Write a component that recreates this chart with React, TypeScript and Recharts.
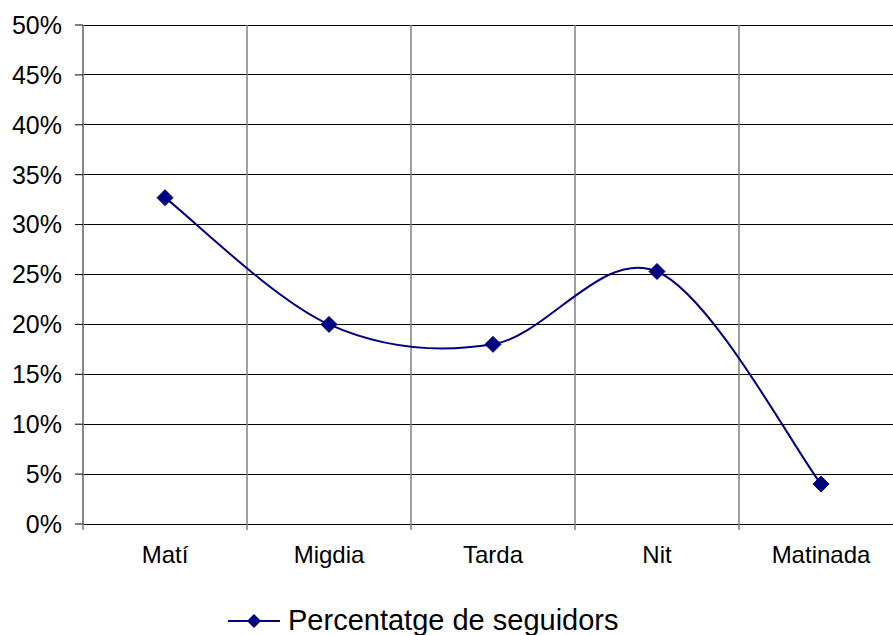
import React from 'react';
import {
  LineChart,
  Line,
  XAxis,
  YAxis,
  CartesianGrid,
} from 'recharts';

const categories = ['Matí', 'Migdia', 'Tarda', 'Nit', 'Matinada'];
const followers = [32.7, 20.0, 18.0, 25.3, 4.0];
const yTicks = [0, 5, 10, 15, 20, 25, 30, 35, 40, 45, 50];
const seriesName = 'Percentatge de seguidors';

const NAVY = '#000080';
const FONT = '"Liberation Sans", Arial, sans-serif';

const data = categories.map((name, i) => ({ name, value: followers[i] }));

// spreadsheet-style smoothing: catmull-rom segments written as beziers
const smoothCurve = (context: any) => {
  let pts: number[][] = [];
  return {
    areaStart() {},
    areaEnd() {},
    lineStart() {
      pts = [];
    },
    point(x: number, y: number) {
      pts.push([+x, +y]);
    },
    lineEnd() {
      if (!pts.length) return;
      context.moveTo(pts[0][0], pts[0][1]);
      for (let i = 0; i < pts.length - 1; i++) {
        const p0 = pts[i - 1] || pts[i];
        const p1 = pts[i];
        const p2 = pts[i + 1];
        const p3 = pts[i + 2] || pts[i + 1];
        context.bezierCurveTo(
          p1[0] + (p2[0] - p0[0]) / 6,
          p1[1] + (p2[1] - p0[1]) / 6,
          p2[0] - (p3[0] - p1[0]) / 6,
          p2[1] - (p3[1] - p1[1]) / 6,
          p2[0],
          p2[1],
        );
      }
    },
  };
};

const Diamond = (props: any) => {
  const { cx, cy } = props;
  if (cx == null || cy == null) return null;
  const r = 8;
  return (
    <polygon
      points={`${cx},${cy - r} ${cx + r},${cy} ${cx},${cy + r} ${cx - r},${cy}`}
      fill={NAVY}
      stroke={NAVY}
    />
  );
};

// category label plus the small grey tick at the left edge of its band
const CategoryTick = (props: any) => {
  const { x, y, payload } = props;
  const half = payload?.offset ?? 0;
  return (
    <g>
      <line x1={x - half} y1={y} x2={x - half} y2={y + 6} stroke="#808080" strokeWidth={1.5} />
      <text
        x={x}
        y={y + 22}
        dy="0.71em"
        textAnchor="middle"
        fill="#000"
        fontSize={24}
        fontFamily={FONT}
      >
        {payload.value}
      </text>
    </g>
  );
};

const bandEdges = ({ offset }: any) =>
  categories.map((_, i) => offset.left + (i * offset.width) / categories.length);

export default function App() {
  return (
    <div
      style={{
        position: 'fixed',
        top: 0,
        left: 0,
        width: 893,
        height: 635,
        overflow: 'hidden',
        background: '#fff',
        fontFamily: FONT,
      }}
    >
      <LineChart
        width={903}
        height={635}
        data={data}
        margin={{ top: 25, right: 0, bottom: 65, left: 0 }}
      >
        <CartesianGrid stroke="#000" vertical={false} shapeRendering="crispEdges" />
        <CartesianGrid
          stroke="#808080"
          strokeWidth={1.5}
          horizontal={false}
          verticalCoordinatesGenerator={bandEdges}
        />
        <XAxis
          dataKey="name"
          scale="band"
          height={46}
          tickSize={0}
          tickMargin={0}
          axisLine={false}
          tickLine={false}
          tick={<CategoryTick />}
          interval={0}
        />
        <YAxis
          width={83}
          domain={[0, 50]}
          ticks={yTicks}
          tickFormatter={(v: number) => `${v}%`}
          tickSize={8}
          tickMargin={13}
          axisLine={{ stroke: '#808080', strokeWidth: 1.5 }}
          tickLine={{ stroke: '#000' }}
          tick={{ fill: '#000', fontSize: 25, fontFamily: FONT }}
        />
        <Line
          type={smoothCurve as any}
          dataKey="value"
          name={seriesName}
          stroke={NAVY}
          strokeWidth={2}
          dot={<Diamond />}
          activeDot={false}
          isAnimationActive={false}
        />
      </LineChart>
      <div
        style={{
          position: 'absolute',
          left: 226,
          top: 604,
          display: 'flex',
          alignItems: 'center',
          fontSize: 29,
          color: '#000',
          whiteSpace: 'nowrap',
        }}
      >
        <svg width={56} height={20} style={{ marginRight: 6 }}>
          <line x1={2} y1={10} x2={54} y2={10} stroke={NAVY} strokeWidth={2} />
          <polygon points="28,3 35,10 28,17 21,10" fill={NAVY} />
        </svg>
        <span>{seriesName}</span>
      </div>
    </div>
  );
}
